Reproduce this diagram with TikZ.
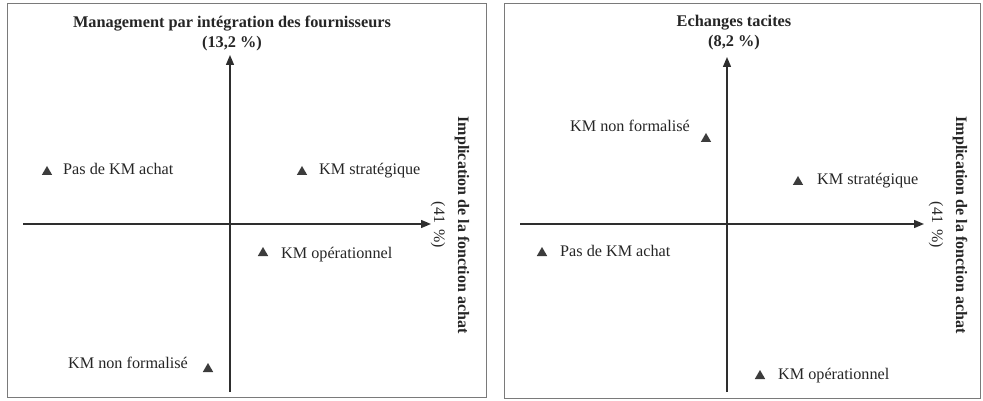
\documentclass[tikz,border=0pt]{standalone}
\usepackage{fontspec}
\setmainfont{Liberation Serif}
\usetikzlibrary{arrows.meta,shapes.geometric}
\definecolor{framecol}{HTML}{7A7A7A}
\definecolor{axiscol}{HTML}{2E2E2E}
\definecolor{markcol}{HTML}{3C3C3C}
\begin{document}
\begin{tikzpicture}[x=1pt,y=-1pt,
  panel/.style={draw=framecol,line width=1pt},
  axis/.style={draw=axiscol,line width=1.4pt,-{Triangle[length=10pt,width=8pt]}},
  plainaxis/.style={draw=axiscol,line width=1.4pt},
  mk/.style={regular polygon,regular polygon sides=3,fill=markcol,draw=none,minimum size=12pt,inner sep=0pt},
  lbl/.style={font=\fontsize{16.2}{19}\selectfont,inner sep=0pt,text=black!85},
  ttl/.style={font=\fontsize{16.3}{20}\selectfont\bfseries,align=center,inner sep=0pt,text=black!85},
  side/.style={font=\fontsize{16}{24}\selectfont,align=center,inner sep=0pt,rotate=-90,text=black!85}]
\useasboundingbox (0,0) rectangle (983,401);
\fill[white] (0,0) rectangle (983,401);
% ---------- left panel ----------
\draw[panel] (7,4) rectangle (486,397);
\coordinate (Lvb) at (230,392);
\coordinate (Lvt) at (230,55);
\coordinate (Lhl) at (23,224);
\coordinate (Lhr) at (431,224);
\draw[plainaxis] (Lvb) -- (230,224);
\draw[axis] (230,224) -- (Lvt);
\draw[plainaxis] (Lhl) -- (230,224);
\draw[axis] (230,224) -- (Lhr);
\node[ttl] (Ltitle) at (232,33) {Management par intégration des fournisseurs\\(13,2~\%)};
\node[side] (Lside) at (450,225) {\textbf{Implication de la fonction achat}\\(41\,~\%)};
\node[mk] (Lm1) at (47,172) {};
\node[lbl,anchor=base west] (Lt1) at (63,175) {Pas de KM achat};
\node[mk] (Lm2) at (302,172) {};
\node[lbl,anchor=base west] (Lt2) at (319,175) {KM stratégique};
\node[mk] (Lm3) at (263,253) {};
\node[lbl,anchor=base west] (Lt3) at (281,258) {KM opérationnel};
\node[mk] (Lm4) at (208,369) {};
\node[lbl,anchor=base east] (Lt4) at (188,368) {KM non formalisé};
% ---------- right panel ----------
\draw[panel] (504,4) rectangle (980,398);
\coordinate (Rvb) at (727,392);
\coordinate (Rvt) at (727,57);
\coordinate (Rhl) at (520,224);
\coordinate (Rhr) at (924,224);
\draw[plainaxis] (Rvb) -- (727,224);
\draw[axis] (727,224) -- (Rvt);
\draw[plainaxis] (Rhl) -- (727,224);
\draw[axis] (727,224) -- (Rhr);
\node[ttl] (Rtitle) at (734,33) {Echanges tacites\\(8,2~\%)};
\node[side] (Rside) at (948,225) {\textbf{Implication de la fonction achat}\\(41\,~\%)};
\node[mk] (Rm1) at (706,139) {};
\node[lbl,anchor=base east] (Rt1) at (690,132) {KM non formalisé};
\node[mk] (Rm2) at (798,182) {};
\node[lbl,anchor=base west] (Rt2) at (817,185) {KM stratégique};
\node[mk] (Rm3) at (542,253) {};
\node[lbl,anchor=base west] (Rt3) at (560,256) {Pas de KM achat};
\node[mk] (Rm4) at (760,376) {};
\node[lbl,anchor=base west] (Rt4) at (778,379) {KM opérationnel};
\end{tikzpicture}
\end{document}
